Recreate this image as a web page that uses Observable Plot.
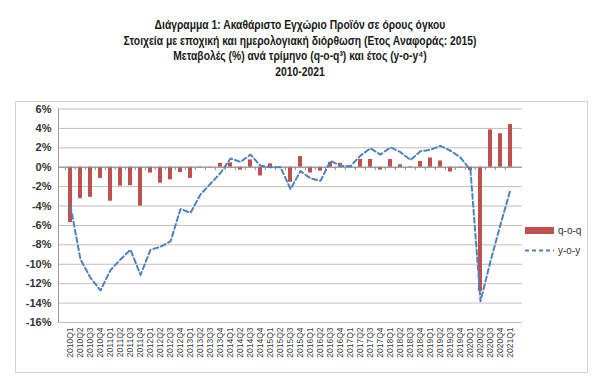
<!DOCTYPE html>
<html><head><meta charset="utf-8">
<script src="https://cdn.jsdelivr.net/npm/d3@7"></script>
<script src="https://cdn.jsdelivr.net/npm/@observablehq/plot@0.6"></script>
<style>
body{margin:0;background:#fff;}
#wrap{position:relative;width:600px;height:382px;overflow:hidden;font-family:"Liberation Sans",Arial,sans-serif;}
#title{position:absolute;left:0;top:18px;width:600px;text-align:center;font-weight:bold;font-size:12px;line-height:15.6px;color:#1a1a1a;transform:scaleX(0.86);transform-origin:300px 0;}
#frame{position:absolute;left:15px;top:101px;width:571px;height:270px;border:1px solid #d4d4d4;}
#chart{position:absolute;left:0;top:90px;}
#legend{position:absolute;left:525px;top:220px;font-family:"Liberation Sans",Arial,sans-serif;font-size:10px;color:#333;}
.li{display:flex;align-items:center;height:20px;}
.sw{width:29px;height:7px;background:#c0504d;margin-right:4px;}
</style></head>
<body>
<div id="wrap">
  <div id="title">
    <div>Διάγραμμα 1: Ακαθάριστο Εγχώριο Προϊόν σε όρους όγκου</div>
    <div>Στοιχεία με εποχική και ημερολογιακή διόρθωση (Ετος Αναφοράς: 2015)</div>
    <div>Μεταβολές (%) ανά τρίμηνο (q-o-q³) και έτος (y-o-y⁴)</div>
    <div>2010-2021</div>
  </div>
  <div id="frame"></div>
  <div id="chart"></div>
  <div id="legend">
    <div class="li"><div class="sw"></div><span>q-o-q</span></div>
    <div class="li"><svg width="29" height="7" style="margin-right:4px"><line x1="0" y1="3.5" x2="29" y2="3.5" stroke="#4f81bd" stroke-width="2" stroke-dasharray="4,3"/></svg><span>y-o-y</span></div>
  </div>
</div>
<script>
const quarters = [
  "2010Q1","2010Q2","2010Q3","2010Q4",
  "2011Q1","2011Q2","2011Q3","2011Q4",
  "2012Q1","2012Q2","2012Q3","2012Q4",
  "2013Q1","2013Q2","2013Q3","2013Q4",
  "2014Q1","2014Q2","2014Q3","2014Q4",
  "2015Q1","2015Q2","2015Q3","2015Q4",
  "2016Q1","2016Q2","2016Q3","2016Q4",
  "2017Q1","2017Q2","2017Q3","2017Q4",
  "2018Q1","2018Q2","2018Q3","2018Q4",
  "2019Q1","2019Q2","2019Q3","2019Q4",
  "2020Q1","2020Q2","2020Q3","2020Q4",
  "2021Q1"
];
const qoq = [
  -5.7, -3.25, -3.1, -1.15,
  -3.5, -1.95, -1.9, -4.0,
  -0.6, -1.65, -1.3, -0.55,
  -1.15, 0.05, -0.05, 0.4,
  0.45, -0.3, 0.75, -0.9,
  0.35, 0.05, -1.55, 1.1,
  -0.6, -0.4, 0.5, 0.4,
  -0.05, 0.8, 0.8, -0.3,
  0.8, 0.25, 0.05, 0.6,
  0.95, 0.65, -0.5, -0.05,
  -0.35, -12.8, 3.85, 3.45,
  4.4
];
const yoy = [
  -4.0, -9.5, -11.4, -12.7,
  -10.6, -9.5, -8.5, -11.1,
  -8.5, -8.2, -7.65, -4.3,
  -4.7, -2.8, -1.7, -0.6,
  0.9, 0.55, 1.3, 0.15,
  0.0, 0.0, -2.25, -0.4,
  -1.15, -1.4, 0.65, 0.15,
  0.1, 1.2, 1.95, 1.3,
  2.05, 1.55, 0.75, 1.65,
  1.8, 2.2, 1.7, 1.0,
  -0.3, -13.8, -9.7, -5.9,
  -2.3
];
const yTicks = [6, 4, 2, 0, -2, -4, -6, -8, -10, -12, -14, -16];

const data = quarters.map((q, i) => ({q, qoq: qoq[i], yoy: yoy[i]}));

const chart = Plot.plot({
  width: 600,
  height: 292,
  marginLeft: 58,
  marginRight: 78,
  marginTop: 18.5,
  marginBottom: 60,
  style: {fontFamily: "'Liberation Sans', Arial, sans-serif", background: "transparent", color: "#404040"},
  x: {type: "band", domain: quarters, padding: 0.6, label: null},
  y: {domain: [-16, 6], label: null},
  marks: [
    Plot.ruleY(yTicks, {stroke: "#bfbfbf", strokeWidth: 1}),
    Plot.frame({anchor: "left", stroke: "#9a9a9a"}),
    Plot.barY(data, {x: "q", y: "qoq", fill: "#c0504d"}),
    Plot.ruleY([0], {stroke: "#8c8c8c"}),
    Plot.ruleX(quarters, {x: d => d, y1: 0, y2: -0.35, dx: -5.16, stroke: "#8c8c8c"}),
    Plot.lineY(data, {x: "q", y: "yoy", stroke: "#4f81bd", strokeWidth: 2, strokeDasharray: "5,3"}),
    Plot.axisY({ticks: yTicks, tickFormat: d => d + "%", tickSize: 0, tickPadding: 7, fontSize: 11, fontWeight: "bold", label: null, fill: "#333"}),
    Plot.axisX({tickRotate: -90, tickSize: 0, tickPadding: 5, fontSize: 8.5, label: null, fill: "#404040"})
  ]
});
document.getElementById("chart").appendChild(chart);
</script>
</body></html>
